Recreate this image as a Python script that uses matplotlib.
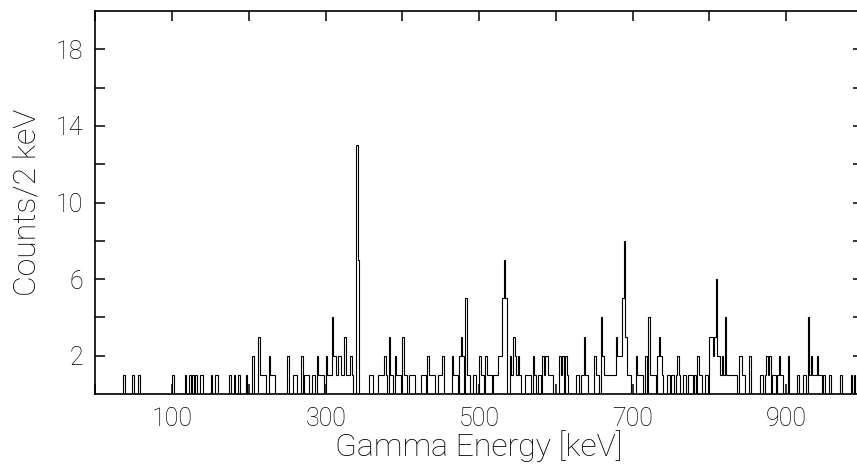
import numpy as np
import matplotlib.pyplot as plt
from matplotlib.ticker import FixedLocator, FixedFormatter

# spectrum, 2 keV bins from 0 to 1000 keV; only non-empty bins listed
bin_lo = [36, 48, 56, 100, 116, 122, 126, 130, 136, 138, 150, 156, 158, 174, 180, 186, 196,
          204, 212, 214, 216, 218, 220, 226, 228, 230, 232, 250, 258, 260, 268, 272, 274, 276,
          282, 284, 288, 290, 292, 294, 296, 300, 302, 304, 306, 308, 310, 312, 314, 316, 318,
          320, 322, 324, 326, 328, 330, 332, 334, 340, 342, 356, 358, 360, 368, 370, 372, 374,
          376, 378, 382, 384, 386, 390, 392, 394, 396, 400, 402, 404, 408, 410, 412, 414, 424,
          426, 428, 432, 434, 436, 438, 440, 446, 448, 450, 452, 464, 466, 468, 470, 474, 476,
          478, 482, 484, 486, 492, 494, 500, 502, 504, 508, 510, 512, 514, 518, 520, 522, 524,
          526, 528, 530, 532, 534, 540, 542, 544, 546, 548, 550, 552, 560, 562, 564, 566, 570,
          572, 576, 578, 582, 584, 586, 588, 590, 592, 594, 604, 606, 608, 612, 614, 626, 628,
          632, 634, 636, 638, 640, 650, 652, 654, 658, 660, 662, 664, 666, 668, 670, 672, 674,
          676, 678, 680, 682, 684, 686, 688, 690, 692, 694, 696, 704, 706, 708, 710, 712, 716,
          720, 722, 724, 726, 728, 732, 734, 736, 738, 744, 746, 750, 752, 756, 758, 760, 766,
          768, 772, 774, 776, 780, 784, 786, 788, 794, 796, 800, 802, 804, 806, 808, 810, 812,
          814, 816, 818, 820, 822, 824, 826, 828, 830, 832, 834, 838, 840, 842, 844, 852, 866,
          868, 872, 874, 876, 878, 882, 884, 888, 890, 892, 894, 902, 914, 922, 924, 928, 930,
          932, 934, 936, 938, 940, 942, 944, 948, 956, 970, 984, 988]
bin_counts = [1, 1, 1, 1, 1, 1, 1, 1, 1, 1, 1, 1, 1, 1, 1, 1, 1,
              2, 3, 1, 1, 1, 1, 2, 1, 1, 1, 2, 1, 1, 2, 1, 1, 1,
              1, 1, 2, 1, 1, 1, 1, 2, 1, 1, 1, 4, 2, 2, 1, 2, 2,
              1, 1, 3, 1, 1, 1, 2, 1, 13, 7, 1, 1, 1, 1, 1, 1, 1,
              2, 1, 3, 1, 1, 2, 1, 1, 1, 3, 1, 1, 1, 1, 1, 1, 1,
              1, 1, 2, 1, 1, 1, 1, 1, 1, 1, 2, 2, 1, 1, 1, 2, 3,
              2, 5, 1, 1, 1, 1, 2, 1, 1, 2, 1, 1, 1, 1, 1, 1, 2,
              2, 2, 5, 7, 5, 2, 1, 3, 2, 1, 2, 1, 1, 1, 1, 1, 2,
              1, 1, 1, 2, 1, 2, 2, 1, 1, 1, 2, 1, 2, 2, 1, 1, 1,
              1, 1, 3, 1, 1, 2, 1, 1, 4, 2, 1, 1, 1, 1, 1, 1, 1,
              1, 3, 2, 2, 2, 5, 8, 3, 1, 1, 1, 2, 1, 1, 1, 1, 2,
              4, 1, 1, 1, 1, 2, 3, 2, 1, 1, 1, 1, 1, 1, 2, 1, 1,
              1, 1, 1, 1, 1, 2, 1, 1, 1, 1, 3, 3, 2, 3, 6, 2, 2,
              1, 2, 1, 4, 1, 1, 1, 1, 1, 1, 1, 2, 2, 1, 1, 2, 1,
              1, 1, 2, 1, 2, 1, 1, 1, 2, 1, 1, 2, 1, 1, 1, 4, 1,
              2, 1, 1, 1, 2, 1, 1, 1, 1, 1, 1, 1]

x_ticks = [0, 100, 200, 300, 400, 500, 600, 700, 800, 900, 1000]
x_labels = ['', '100', '', '300', '', '500', '', '700', '', '900', '']
y_ticks = [2, 4, 6, 8, 10, 12, 14, 16, 18]
y_labels = ['2', '', '6', '', '10', '', '14', '', '18']

edges = np.arange(0, 1002, 2)
counts = np.zeros(len(edges) - 1)
counts[np.array(bin_lo) // 2] = bin_counts

plt.rcParams['font.family'] = ['Roboto', 'DejaVu Sans']
plt.rcParams['font.weight'] = 'light'

fig = plt.figure(figsize=(8.57, 4.66), dpi=100)
ax = fig.add_axes([0.1114, 0.1545, 0.8956, 0.8219])

ax.stairs(counts, edges, color='black', lw=0.8, baseline=0)

ax.set_xlim(0, 1000)
ax.set_ylim(0, 20)

ax.xaxis.set_major_locator(FixedLocator(x_ticks))
ax.xaxis.set_major_formatter(FixedFormatter(x_labels))
ax.yaxis.set_major_locator(FixedLocator(y_ticks))
ax.yaxis.set_major_formatter(FixedFormatter(y_labels))

ax.tick_params(direction='in', length=7, width=1.1, top=True, right=True,
               labelsize=18, pad=9, colors='black')
for s in ax.spines.values():
    s.set_linewidth(1.2)

ax.set_xlabel('Gamma Energy [keV]', fontsize=23, fontweight='light',
              color='black', labelpad=0)
ax.set_ylabel('Counts/2 keV', fontsize=23, fontweight='light',
              color='black', labelpad=10)

fig.savefig('out.png', dpi=100)
